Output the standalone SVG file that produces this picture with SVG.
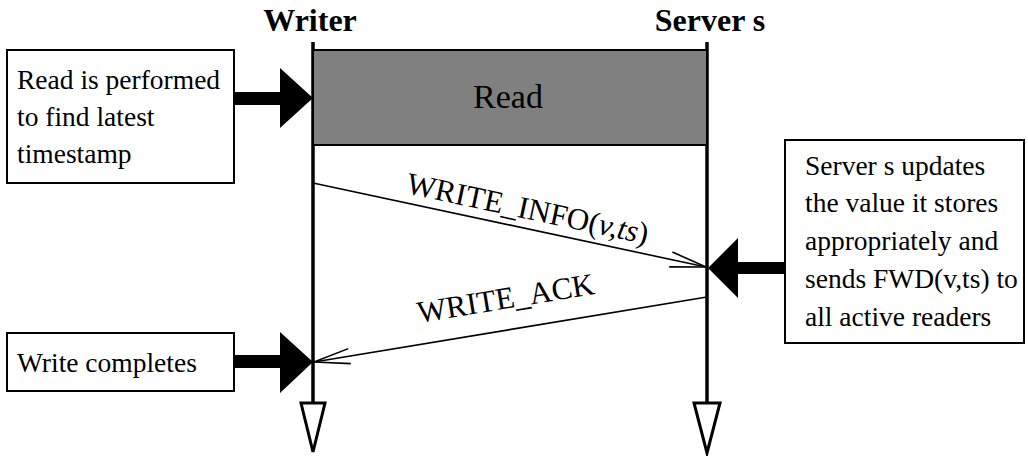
<svg xmlns="http://www.w3.org/2000/svg" width="1028" height="456" viewBox="0 0 1028 456">
  <style>
    .txt { font-family: "Liberation Serif", "Times New Roman", serif; fill: #000; }
    .box { font-size: 27.5px; }
    .head { font-size: 32px; font-weight: bold; }
    .msg { font-size: 31px; }
    .frame { fill: #fff; stroke: #000; stroke-width: 2; }
    .life { stroke: #000; stroke-width: 3.5; fill: none; }
    .end { fill: #fff; stroke: #000; stroke-width: 3; stroke-linejoin: miter; }
    .big { fill: #000; stroke: none; }
    .msgline { stroke: #000; stroke-width: 1.6; fill: none; marker-end: url(#open); }
  </style>
  <defs>
    <marker id="open" markerUnits="userSpaceOnUse" viewBox="-40 -10 42 20" markerWidth="42" markerHeight="20" refX="0" refY="0" orient="auto" overflow="visible">
      <path d="M-36,-7.6 L0,0 L-36,7.6" fill="none" stroke="#000" stroke-width="1.6"/>
    </marker>
  </defs>

  <rect width="1028" height="456" fill="#fff"/>

  <!-- Writer lifeline -->
  <g id="writer">
    <text class="txt head" x="310" y="31" text-anchor="middle">Writer</text>
    <line class="life" x1="313" y1="42" x2="313" y2="403"/>
    <polygon class="end" points="301,403 325,403 313,452"/>
  </g>

  <!-- Server lifeline -->
  <g id="server">
    <text class="txt head" x="710" y="31" text-anchor="middle">Server s</text>
    <line class="life" x1="707" y1="42" x2="707" y2="403"/>
    <polygon class="end" points="694,403 720,403 707,453"/>
  </g>

  <!-- Read phase -->
  <g id="read">
    <rect x="313" y="50" width="394" height="95" fill="#808080" stroke="#000" stroke-width="2"/>
    <text class="txt" x="508" y="108" font-size="34" text-anchor="middle">Read</text>
  </g>

  <!-- Annotation boxes -->
  <g id="note-read">
    <rect class="frame" x="7" y="50" width="227" height="133"/>
    <text class="txt box" x="17" y="89">Read is performed</text>
    <text class="txt box" x="17" y="126">to find latest</text>
    <text class="txt box" x="17" y="163">timestamp</text>
  </g>

  <g id="note-complete">
    <rect class="frame" x="7" y="333" width="227" height="58"/>
    <text class="txt box" x="17" y="372">Write completes</text>
  </g>

  <g id="note-server">
    <rect class="frame" x="785" y="140" width="239" height="203"/>
    <text class="txt box" x="805" y="175">Server s updates</text>
    <text class="txt box" x="805" y="212">the value it stores</text>
    <text class="txt box" x="805" y="250">appropriately and</text>
    <text class="txt box" x="805" y="288">sends FWD(v,ts) to</text>
    <text class="txt box" x="805" y="326">all active readers</text>
  </g>

  <!-- Connectors -->
  <g id="connectors">
    <polygon class="big" points="234,92 280,92 280,68 313,98 280,128 280,105 234,105"/>
    <polygon class="big" points="234,355 280,355 280,332 313,362 280,393 280,368 234,368"/>
    <polygon class="big" points="785,262 738,262 738,238 708,268 738,298 738,274 785,274"/>

    <line class="msgline" x1="313" y1="183" x2="706" y2="267"/>
    <line class="msgline" x1="707" y1="297" x2="314" y2="362"/>

    <text class="txt msg" transform="translate(405,193) rotate(12)">WRITE_INFO(<tspan font-style="italic">v,ts</tspan>)</text>
    <text class="txt msg" transform="translate(419,323) rotate(-9.4)">WRITE_ACK</text>
  </g>
</svg>
